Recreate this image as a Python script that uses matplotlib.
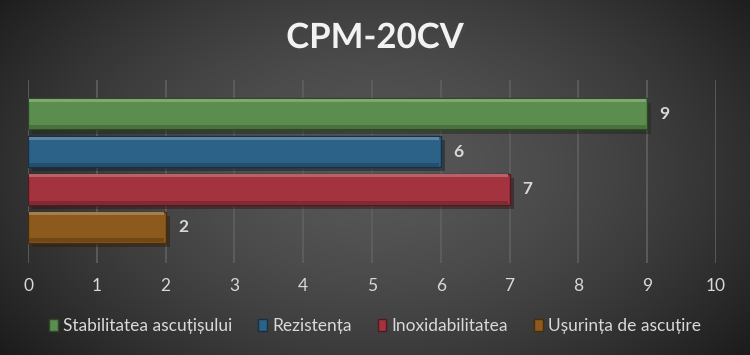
import numpy as np
import matplotlib
matplotlib.use('Agg')
import matplotlib.pyplot as plt
from matplotlib.patches import Patch
import matplotlib.patheffects as pe

plt.rcParams['font.family'] = ['Lato', 'DejaVu Sans']

# ── Data ──────────────────────────────────────────────────────
title = 'CPM-20CV'
series = ['Stabilitatea ascuțișului', 'Rezistența', 'Inoxidabilitatea',
          'Ușurința de ascuțire']
values = [9, 6, 7, 2]
colours = ['#5B8D4E', '#2C6188', '#A3343F', '#8B5A1C']
x_ticks = list(range(0, 11))


def shade(hex_col, f):
    c = np.array(matplotlib.colors.to_rgb(hex_col))
    if f > 1:
        c = c + (1 - c) * (f - 1)
    else:
        c = c * f
    return np.clip(c, 0, 1)


fig = plt.figure(figsize=(7.5, 3.55), dpi=100)

# Radial gradient background
bg = fig.add_axes([0, 0, 1, 1], zorder=-10)
yy, xx = np.mgrid[0:355, 0:750]
r = np.sqrt(((xx - 375) / 420.0) ** 2 + ((yy - 170) / 260.0) ** 2)
lum = 0.34 - 0.19 * np.clip(r, 0, 1.2) ** 1.6
bg.imshow(np.dstack([lum, lum, lum]), aspect='auto', extent=[0, 1, 0, 1])
bg.axis('off')

# Plot area: x 28..716 px, y 80..263 px
ax = fig.add_axes([28 / 750, 1 - 263 / 355, 688 / 750, 183 / 355])
ax.patch.set_alpha(0)
ax.set_xlim(0, 10)
ax.set_ylim(3.95, -0.90)

for x in x_ticks:
    ax.axvline(x, color='#606060', lw=1.2, zorder=0)

h = 0.82
for i, (v, c) in enumerate(zip(values, colours)):
    bar = ax.barh(i, v, height=h, color=c, edgecolor=shade(c, 0.5),
                  lw=1.0, zorder=3)
    bar[0].set_path_effects([pe.SimplePatchShadow(offset=(3, -3),
                                                  alpha=0.45),
                             pe.Normal()])
    # bevel highlights
    ax.barh(i - h / 2 + 0.05, v - 0.04, height=0.08, left=0.02,
            color=shade(c, 1.22), lw=0, zorder=4)
    ax.barh(i + h / 2 - 0.06, v - 0.04, height=0.10, left=0.02,
            color=shade(c, 0.8), lw=0, zorder=4)
    ax.text(v + 0.18, i, str(v), va='center', ha='left',
            color='#d9d9d9', fontsize=12.5, fontweight='bold')

ax.set_xticks(x_ticks)
ax.set_yticks([])
ax.tick_params(axis='x', length=0, pad=11, colors='#d9d9d9', labelsize=12.5)
for s in ax.spines.values():
    s.set_visible(False)

fig.text(0.5, 1 - 38 / 355, title, ha='center', va='center',
         color='#f2f2f2', fontsize=25, fontweight='bold',
         path_effects=[pe.withSimplePatchShadow(offset=(1.5, -1.5),
                                                alpha=0.6)])

handles = [Patch(facecolor=c, edgecolor=shade(c, 0.5), label=s)
           for s, c in zip(series, colours)]
leg = fig.legend(handles=handles, loc='center', ncol=4,
                 bbox_to_anchor=(0.5, 1 - 326 / 355), frameon=False,
                 fontsize=12.5, handlelength=0.5, handleheight=0.7,
                 handletextpad=0.3, columnspacing=1.5)
for t in leg.get_texts():
    t.set_color('#d9d9d9')

plt.savefig('out.png', dpi=100)
plt.close()
